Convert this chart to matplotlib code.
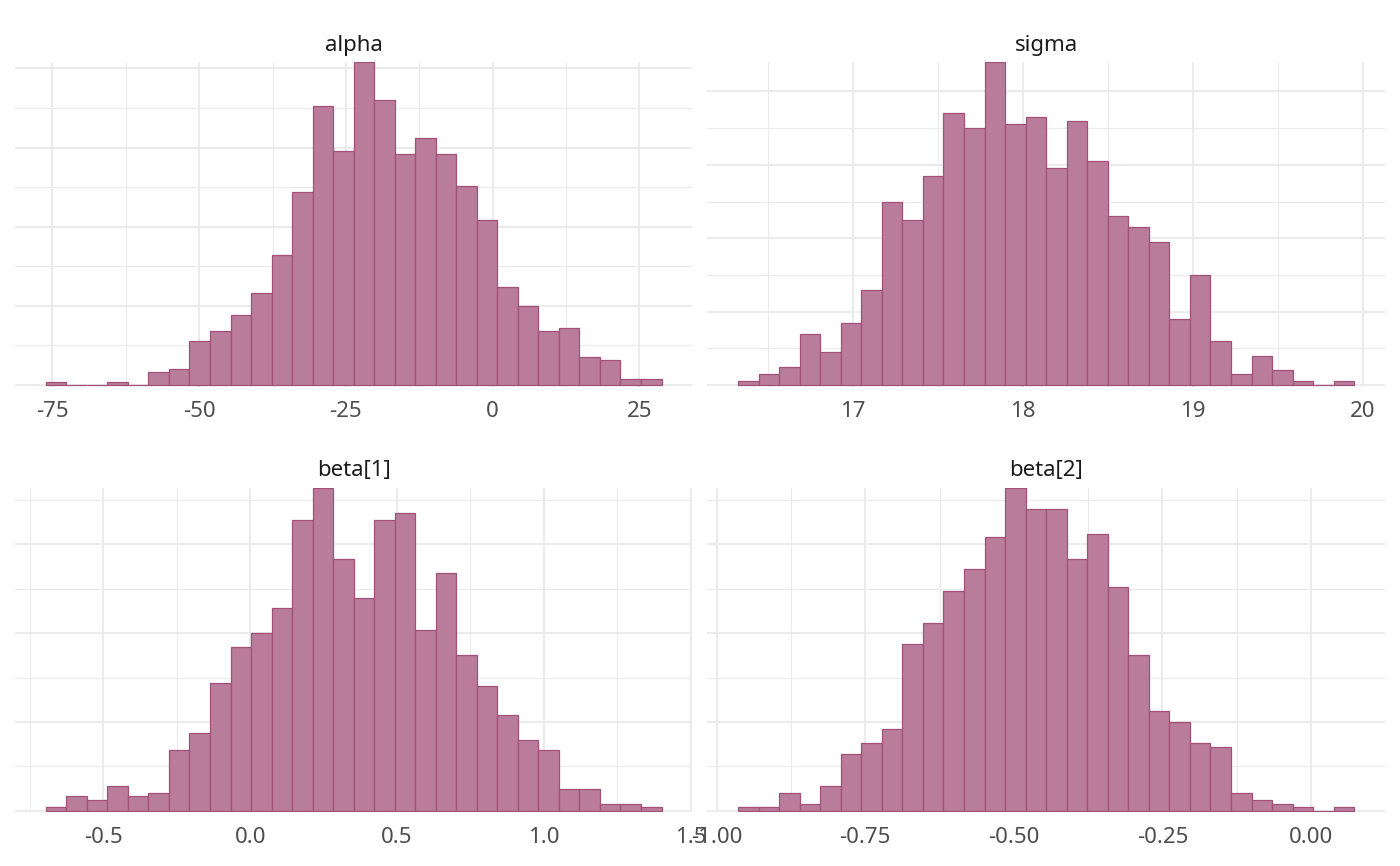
import numpy as np
import matplotlib
matplotlib.use("Agg")
import matplotlib.pyplot as plt

plt.rcParams['font.family'] = ['Noto Sans', 'DejaVu Sans']

# ---- data (counts per bin, 30 bins each) ----
panel_titles = ["alpha", "sigma", "beta[1]", "beta[2]"]

alpha_counts = [1, 0, 0, 1, 0, 4, 5, 14, 17, 22, 29, 41, 61, 88, 74,
                102, 90, 73, 78, 73, 63, 52, 31, 25, 17, 18, 9, 8, 2, 2]
alpha_range = (-76.14, 28.80)

sigma_counts = [1, 3, 5, 14, 9, 17, 26, 50, 45, 57, 74, 70, 88, 71, 73,
                59, 72, 61, 46, 43, 39, 18, 30, 12, 3, 8, 4, 1, 0, 1]
sigma_range = (16.323, 19.950)

beta1_counts = [1, 4, 3, 7, 4, 5, 17, 22, 36, 46, 50, 57, 82, 91, 71,
                60, 82, 84, 51, 67, 44, 35, 27, 20, 17, 6, 6, 2, 2, 1]
beta1_range = (-0.696, 1.401)

beta2_counts = [1, 1, 5, 2, 7, 16, 19, 23, 47, 53, 62, 68, 77, 91, 85,
                85, 71, 78, 63, 44, 28, 25, 19, 18, 5, 3, 2, 1, 0, 1]
beta2_range = (-0.964, 0.0728)

alpha_ticks = [-75, -50, -25, 0, 25]
alpha_ticklabels = ["-75", "-50", "-25", "0", "25"]
sigma_ticks = [17, 18, 19, 20]
sigma_ticklabels = ["17", "18", "19", "20"]
beta1_ticks = [-0.5, 0.0, 0.5, 1.0, 1.5]
beta1_ticklabels = ["-0.5", "0.0", "0.5", "1.0", "1.5"]
beta2_ticks = [-1.0, -0.75, -0.5, -0.25, 0.0]
beta2_ticklabels = ["-1.00", "-0.75", "-0.50", "-0.25", "0.00"]

y_major_steps = [25, 20, 25, 25]

panels = [
    (alpha_counts, alpha_range, alpha_ticks, alpha_ticklabels),
    (sigma_counts, sigma_range, sigma_ticks, sigma_ticklabels),
    (beta1_counts, beta1_range, beta1_ticks, beta1_ticklabels),
    (beta2_counts, beta2_range, beta2_ticks, beta2_ticklabels),
]

FILL = "#b97c9b"
EDGE = "#a25079"
GRID = "#ebebeb"

W, H = 1400, 866
fig = plt.figure(figsize=(W / 100, H / 100), dpi=100)

# panel boxes in pixels (left, top, right, bottom)
boxes = [
    (15, 62, 692.3, 386.7),
    (707.3, 62, 1385, 386.7),
    (15, 487.7, 692.3, 812.3),
    (707.3, 487.7, 1385, 812.3),
]

for i, ((counts, rng, ticks, labels), box, title, ystep) in enumerate(
        zip(panels, boxes, panel_titles, y_major_steps)):
    l, t, r, b = box
    ax = fig.add_axes([l / W, 1 - b / H, (r - l) / W, (b - t) / H])
    counts = np.asarray(counts)
    edges = np.linspace(rng[0], rng[1], len(counts) + 1)
    width = edges[1] - edges[0]
    ax.bar(edges[:-1], counts, width=width, align='edge',
           color=FILL, edgecolor=EDGE, linewidth=0.9, zorder=3)
    ymax = counts.max()

    # x grid
    step = ticks[1] - ticks[0]
    ax.set_xticks(ticks)
    ax.set_xticklabels(labels)
    minor_x = [t0 + step / 2 for t0 in ([ticks[0] - step] + list(ticks))]
    ax.set_xticks(minor_x, minor=True)
    # y grid
    ax.set_yticks(np.arange(0, ymax + 1, ystep))
    ax.set_yticks(np.arange(ystep / 2, ymax + 1, ystep), minor=True)
    ax.set_yticklabels([])

    span = rng[1] - rng[0]
    ax.set_xlim(rng[0] - 0.05 * span, rng[1] + 0.05 * span)
    ax.set_ylim(-0.005 * ymax, ymax)

    ax.grid(which='major', color=GRID, linewidth=1.5, zorder=0)
    ax.grid(which='minor', color=GRID, linewidth=0.8, zorder=0)
    ax.set_axisbelow(True)
    for s in ax.spines.values():
        s.set_visible(False)
    ax.tick_params(which='both', length=0)
    ax.tick_params(axis='x', which='major', pad=10.5, labelsize=16,
                   labelcolor="#4d4d4d")
    ax.tick_params(axis='y', which='both', labelleft=False)

    fig.text((l + r) / 2 / W, 1 - (t - 11.3) / H, title, ha='center',
             va='baseline', fontsize=16, color="#1a1a1a")

fig.savefig("out.png", dpi=100, facecolor="white")
